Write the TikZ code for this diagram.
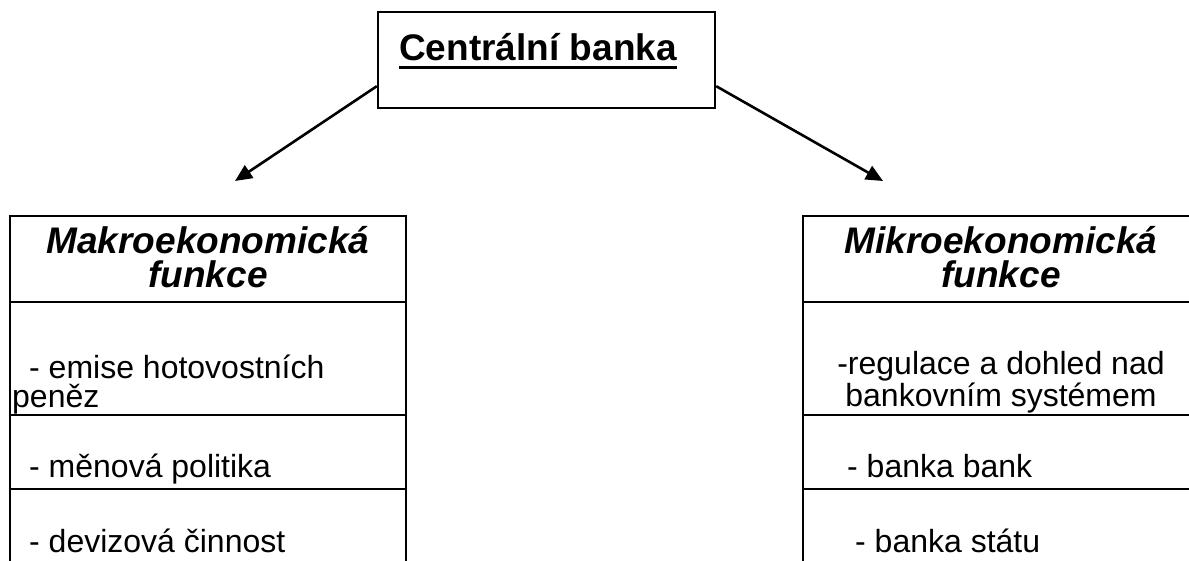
\documentclass[tikz,border=0pt]{standalone}
\usepackage{fontspec}
\setmainfont{Liberation Sans}
\usetikzlibrary{arrows.meta}

\tikzset{
    tline/.style={line width=2.4pt},
    link/.style={line width=2.6pt, -{Triangle[length=17pt, width=15pt]}},
    hdr/.style={font=\fontsize{37}{34}\selectfont\bfseries\itshape,
                align=center, anchor=base, inner sep=0pt},
    txt/.style={font=\fontsize{32}{29}\selectfont, anchor=base west,
                inner sep=0pt},
}

\begin{document}
\begin{tikzpicture}[x=1pt, y=-1pt]
\useasboundingbox (0,0) rectangle (1189,560);
\clip (0,0) rectangle (1189,560);
\begin{scope}
    % central bank box
    \node[draw, tline, minimum width=337pt, minimum height=96pt,
          inner sep=0pt] (cb) at (546.5,60) {};
    \node[font=\fontsize{37}{42.5}\selectfont\bfseries, anchor=base,
          inner sep=0pt] (cbt) at (538,60) {Centrální banka};
    \draw[line width=3pt] ([yshift=-7.5pt]cbt.base west)
        -- ([yshift=-7.5pt]cbt.base east);

    \coordinate (makro) at (235,181);
    \coordinate (mikro) at (883,181);
    \draw[link] ([yshift=23pt]cb.south west) -- (makro);
    \draw[link] ([yshift=23pt]cb.south east) -- (mikro);

    % left table
    \draw[tline] (10,600) -- (10,216) -- (406,216) -- (406,600);
    \foreach \y in {302, 415, 489}{
        \draw[tline] (10,\y) -- (406,\y);
    }
    \node[hdr] (mkh) at (208,287) {Makroekonomická\\funkce};
    \node[txt] (em1) at (29,378) {- emise hotovostních};
    \node[txt] (em2) at (12,407) {peněz};
    \node[txt] (mp) at (29,477) {- měnová politika};
    \node[txt] (dc) at (29,552) {- devizová činnost};

    % right table
    \draw[tline] (803,600) -- (803,216) -- (1200,216) -- (1200,600);
    \foreach \y in {302, 415, 489}{
        \draw[tline] (803,\y) -- (1200,\y);
    }
    \node[hdr] (mih) at (1001,287) {Mikroekonomická\\funkce};
    \node[txt, align=center, anchor=base] (rd) at (1001,406)
        {-regulace a dohled nad\\bankovním systémem};
    \node[txt] (bb) at (847,477) {- banka bank};
    \node[txt] (bs) at (855,552) {- banka státu};
\end{scope}
\end{tikzpicture}
\end{document}
